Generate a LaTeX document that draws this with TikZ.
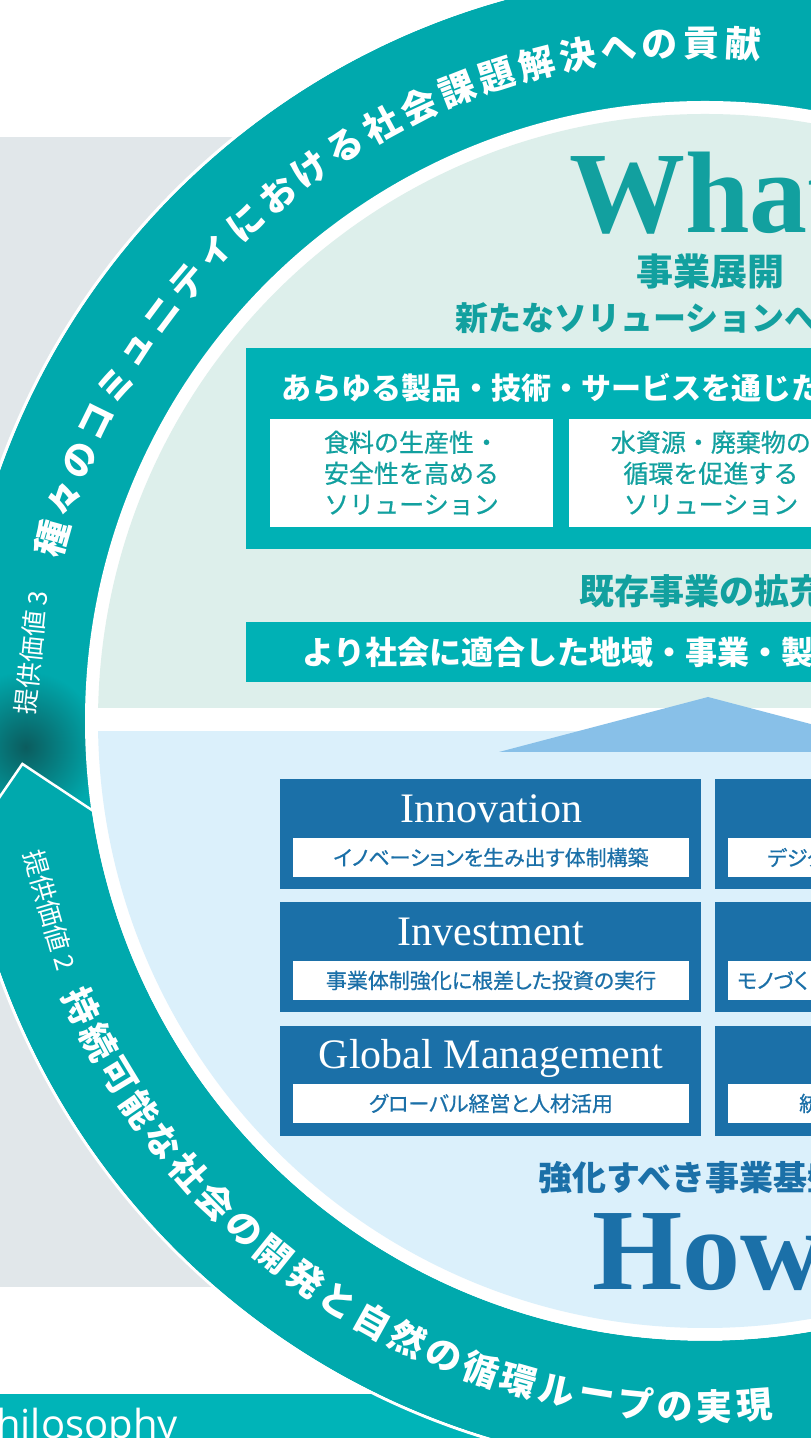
\documentclass[tikz,border=0pt]{standalone}
\usepackage{fontspec}
\newfontfamily\jpfont{Noto Sans CJK JP}
\newfontfamily\jpmid[FakeBold=0.7]{Noto Sans CJK JP}
\newfontfamily\jpprop[RawFeature=+palt, FakeBold=0.7]{Noto Sans CJK JP}
\newfontfamily\romanfont{Liberation Serif}
\newfontfamily\philfont{Open Sans}
\usetikzlibrary{positioning}

\definecolor{ringteal}{HTML}{00A9AD}
\definecolor{boxteal}{HTML}{00B1B5}
\definecolor{whatteal}{HTML}{12A09F}
\definecolor{mintbg}{HTML}{DDEFEB}
\definecolor{howbg}{HTML}{DBF0FB}
\definecolor{navy}{HTML}{1B70A8}
\definecolor{arrowblue}{HTML}{88C0E8}
\definecolor{graybg}{HTML}{E1E7EA}
\definecolor{bandteal}{HTML}{00B4B8}
\definecolor{ringshadow}{HTML}{0B5C5E}

\tikzset{
  arctext/.style={font=\jpfont\bfseries\fontsize{36}{36}\selectfont, text=white, inner sep=0pt},
  valuetext/.style={font=\jpfont\fontsize{26}{26}\selectfont, text=white, inner sep=0pt},
  headtext/.style={font=\jpfont\bfseries\fontsize{#1}{#1}\selectfont, inner sep=0pt},
  bigword/.style={font=\romanfont\bfseries\fontsize{116}{116}\selectfont, anchor=base, inner sep=0pt},
  solbox/.style={fill=white, minimum width=283pt, minimum height=108pt, inner sep=0pt, align=center, text=whatteal, font=\jpmid\fontsize{25}{31}\selectfont},
  basebox/.style={fill=navy, minimum width=421pt, minimum height=110pt, inner sep=0pt},
  basebar/.style={fill=white, minimum width=396pt, minimum height=39pt, inner sep=0pt, text=navy, font=\jpprop\fontsize{21}{21}\selectfont},
  bartext/.style={text=navy, font=\jpprop\fontsize{21}{21}\selectfont, inner sep=0pt},
  basetitle/.style={text=white, font=\romanfont\fontsize{42}{42}\selectfont, inner sep=0pt, anchor=base},
}

\begin{document}
\begin{tikzpicture}[x=1pt,y=1pt]
\useasboundingbox (0,0) rectangle (811,1438);
\clip (0,0) rectangle (811,1438);
\fill[white] (0,0) rectangle (811,1438);
\fill[graybg] (0,151) rectangle (705,1301);
\fill[bandteal] (0,0) rectangle (705,44);
\node[font=\philfont\fontsize{40}{40}\selectfont, text=white, anchor=base west, inner sep=0pt] (phil) at (-28,-1) {Philosophy};

% ring
\begin{scope}[shift={(705,717)}]
\fill[ringteal] (0,0) circle (748pt);
\begin{scope}
\clip (0,0) circle (748pt);
\shade[inner color=ringshadow, outer color=ringteal] (182.2:680) circle (76pt);
\end{scope}
\draw[white, line width=3pt] (0,0) circle (749.5pt);
\fill[white] (0,0) circle (620pt);
\fill[ringteal] (189.8:748) arc[start angle=189.8, end angle=300, radius=748pt] -- (300:620) arc[start angle=300, end angle=188.4, radius=620pt] -- (183.6:684) -- cycle;
\draw[white, line width=2.5pt, line join=miter] (189.8:752) -- (183.6:684) -- (188.4:618);
% inner halves
\begin{scope}
\clip (-705,13) rectangle (700,720);
\fill[mintbg] (0,0) circle (607pt);
\end{scope}
\begin{scope}
\clip (-705,-720) rectangle (700,-11);
\fill[howbg] (0,0) circle (607pt);
\end{scope}
\end{scope}

\fill[arrowblue] (708,741) -- (499,686) -- (917,686) -- cycle;

% What
\node[bigword, text=whatteal] (what) at (708,1205) {What};
\node[headtext=37, text=whatteal] (biz) at (710,1166) {事業展開};
\node[headtext=33, text=whatteal, anchor=west] (newsol) at (455,1120) {新たなソリューションへ};
\node[fill=boxteal, minimum width=924pt, minimum height=201pt, inner sep=0pt] (whatbox) at (708,989.5) {};
\node[headtext=30, text=white, anchor=west] (alltech) at (281,1050) {あらゆる製品・技術・サービスを通じた};
\node[solbox] (food) at (411.5,965) {食料の生産性・\\安全性を高める\\ソリューション};
\node[solbox, right=16pt of food] (water) {水資源・廃棄物の\\循環を促進する\\ソリューション};
\node[headtext=35, text=whatteal, anchor=west] (expand) at (579,847) {既存事業の拡充};
\node[fill=boxteal, minimum width=924pt, minimum height=60pt, inner sep=0pt] (fitbar) at (708,786) {};
\node[headtext=32, text=white, anchor=west] (fit) at (302,786) {より社会に適合した地域・事業・製品};

% How
\node[basebox] (inno) at (490.5,603.5) {};
\node[basebox] (inve) at (490.5,480.5) {};
\node[basebox] (glob) at (490.5,357) {};
\node[basebox] (digi) at (925.5,603.5) {};
\node[basebox] (mono) at (925.5,480.5) {};
\node[basebox] (unif) at (925.5,357) {};
\node[basetitle] (innot) at (491,615) {Innovation};
\node[basetitle] (invet) at (491,492) {Investment};
\node[basetitle] (globt) at (491,369) {Global Management};
\node[basebar] (innob) at (491,580.5) {イノベーションを生み出す体制構築};
\node[basebar] (inveb) at (491,457.5) {事業体制強化に根差した投資の実行};
\node[basebar] (globb) at (491,334.5) {グローバル経営と人材活用};
\node[basebar] (digib) at (926,580.5) {};
\node[basebar] (monob) at (926,457.5) {};
\node[basebar] (unifb) at (926,334.5) {};
\node[bartext, anchor=west] (digitx) at (767,580.5) {デジタ};
\node[bartext, anchor=west] (monotx) at (737,457.5) {モノづくり};
\node[bartext, anchor=west] (uniftx) at (799,334.5) {統};
\node[headtext=34, text=navy, anchor=west] (base) at (538,260) {強化すべき事業基盤};
\node[bigword, text=navy] (how) at (708,148) {How};

% texts on the ring
\begin{scope}[shift={(705,717)}]
\foreach \ch [count=\i from 0] in {種,々,の,コ,ミ,ュ,ニ,テ,ィ,に,お,け,る,社,会,課,題,解,決,へ,の,貢,献}{
  \pgfmathsetmacro{\ang}{164.4-3.53*\i}
  \node[arctext, rotate=\ang-90] (up\i) at (\ang:678) {\ch};
}
\foreach \ch [count=\i from 0] in {持,続,可,能,な,社,会,の,開,発,と,自,然,の,循,環,ル,ー,プ,の,実,現}{
  \pgfmathsetmacro{\ang}{204.6+3.31*\i}
  \node[arctext, rotate=\ang+90] (lo\i) at (\ang:686) {\ch};
}
\node[valuetext, rotate=84] (val3) at (174.2:677) {提供価値 3};
\node[valuetext, rotate=286] (val2) at (196.1:682) {提供価値 2};
\end{scope}
\end{tikzpicture}
\end{document}
